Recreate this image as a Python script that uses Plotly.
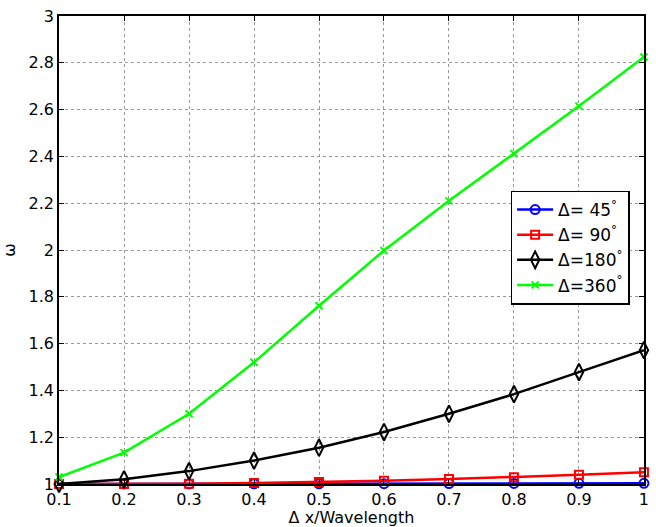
import plotly.graph_objects as go

x = [0.1, 0.2, 0.3, 0.4, 0.5, 0.6, 0.7, 0.8, 0.9, 1.0]
w45 = [1.0, 1.0, 1.0, 1.0005, 1.001, 1.0015, 1.002, 1.0025, 1.003, 1.003]
w90 = [1.0, 1.0, 1.001, 1.004, 1.008, 1.014, 1.021, 1.029, 1.039, 1.05]
w180 = [1.0, 1.02, 1.055, 1.10, 1.155, 1.222, 1.30, 1.384, 1.478, 1.572]
w360 = [1.03, 1.134, 1.30, 1.52, 1.762, 1.998, 2.21, 2.412, 2.615, 2.825]
names = ["Δ= 45<sup>°</sup>", "Δ= 90<sup>°</sup>", "Δ=180<sup>°</sup>", "Δ=360<sup>°</sup>"]
xticks = [0.1, 0.2, 0.3, 0.4, 0.5, 0.6, 0.7, 0.8, 0.9, 1.0]
xticktext = ["0.1", "0.2", "0.3", "0.4", "0.5", "0.6", "0.7", "0.8", "0.9", "1"]
yticks = [1, 1.2, 1.4, 1.6, 1.8, 2, 2.2, 2.4, 2.6, 2.8, 3]
yticktext = ["1", "1.2", "1.4", "1.6", "1.8", "2", "2.2", "2.4", "2.6", "2.8", "3"]

FONT = "DejaVu Sans, Liberation Sans, Arial"

fig = go.Figure()
series = [
    (w45, "#0000ff", "circle-open", 9),
    (w90, "#ff0000", "square-open", 8),
    (w180, "#000000", "diamond-tall-open", 12),
    (w360, "#00ff00", "x-thin-open", 7),
]
for (ys, col, sym, sz), nm in zip(series, names):
    fig.add_trace(go.Scatter(
        x=x, y=ys, name=nm, mode="lines+markers",
        line=dict(color=col, width=2.5),
        marker=dict(symbol=sym, size=sz, color=col, line=dict(color=col, width=2)),
        cliponaxis=False,
    ))

axis_common = dict(
    showline=True, mirror="ticks", linecolor="black", linewidth=1.5,
    ticks="inside", ticklen=5, tickcolor="black",
    showgrid=True, gridcolor="#999999", griddash="dot", gridwidth=1,
    zeroline=False, tickfont=dict(family=FONT, size=16, color="black"),
)
fig.update_xaxes(range=[0.0999, 1.0001], tickvals=xticks, ticktext=xticktext,
                 ticklabelstandoff=0,
                 title=dict(text="Δ x/Wavelength", font=dict(family=FONT, size=16, color="black"), standoff=0),
                 **axis_common)
fig.update_yaxes(range=[0.9999, 3.0001], tickvals=yticks, ticktext=yticktext,
                 title=dict(text="ω", font=dict(family=FONT, size=16, color="black"), standoff=10),
                 **axis_common)

fig.update_layout(
    width=656, height=527,
    margin=dict(l=54, r=7, t=15, b=43),
    plot_bgcolor="white", paper_bgcolor="white",
    font=dict(family=FONT, size=16, color="black"),
    legend=dict(x=0.772, y=0.627, xanchor="left", yanchor="top",
                bgcolor="white", bordercolor="black", borderwidth=1.5,
                font=dict(family=FONT, size=17), itemwidth=36),
    showlegend=True,
)
fig.write_html("out.html")
